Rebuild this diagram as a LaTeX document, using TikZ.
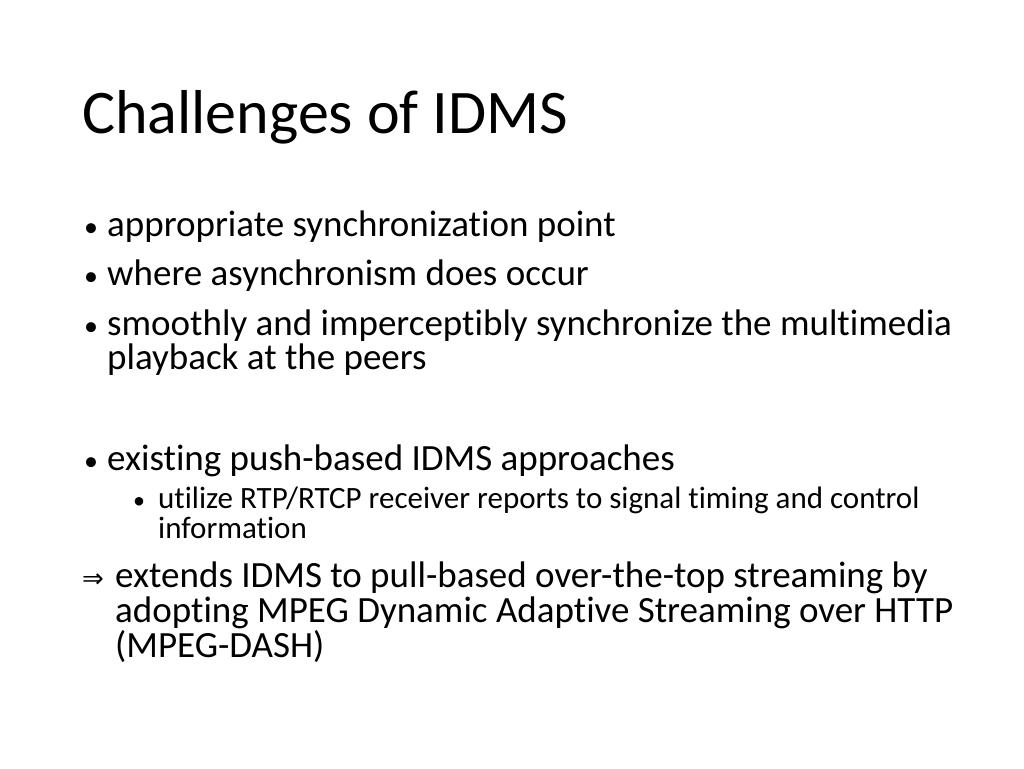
\documentclass[tikz,border=0pt]{standalone}
\usepackage{fontspec}
\setmainfont{Carlito}[RawFeature=-liga]
\newfontfamily\sym{DejaVu Sans}
\begin{document}
\begin{tikzpicture}[x=1pt,y=-1pt,
  t/.style={anchor=base west,inner sep=0pt,font=\fontsize{37}{44}\selectfont},
  s/.style={anchor=base west,inner sep=0pt,font=\fontsize{31}{37}\selectfont},
  bl/.style={anchor=base west,inner sep=0pt,font=\fontsize{28}{30}\selectfont}]
\useasboundingbox[fill=white] (0,0) rectangle (1024,768);
\node[anchor=base west,inner sep=0pt,font=\fontsize{62}{70}\selectfont] (title) at (82,133) {Challenges of IDMS};
\node[bl] (b1) at (84,236) {•}; \node[t] (l1) at (107,236) {appropriate synchronization point};
\node[bl] (b2) at (84,285) {•}; \node[t] (l2) at (107,285) {where asynchronism does occur};
\node[bl] (b3) at (84,335) {•}; \node[t] (l3) at (107,335) {smoothly and imperceptibly synchronize the multimedia};
\node[t] (l3b) at (107,369) {playback at the peers};
\node[bl] (b4) at (84,470) {•}; \node[t] (l4) at (107,470) {existing push-based IDMS approaches};
\node[anchor=base west,inner sep=0pt,font=\fontsize{24}{30}\selectfont] (b5) at (133,508) {•}; \node[s] (l5) at (158,508) {utilize RTP/RTCP receiver reports to signal timing and control};
\node[s] (l5b) at (158,538) {information};
\node[anchor=base west,inner sep=0pt,font=\sym\fontsize{26}{30}\selectfont] (ar) at (82,587) {⇒}; \node[t] (l6) at (115,587) {extends IDMS to pull-based over-the-top streaming by};
\node[t] (l6b) at (115,622) {adopting MPEG Dynamic Adaptive Streaming over HTTP};
\node[t] (l6c) at (115,657) {(MPEG-DASH)};
\end{tikzpicture}
\end{document}
